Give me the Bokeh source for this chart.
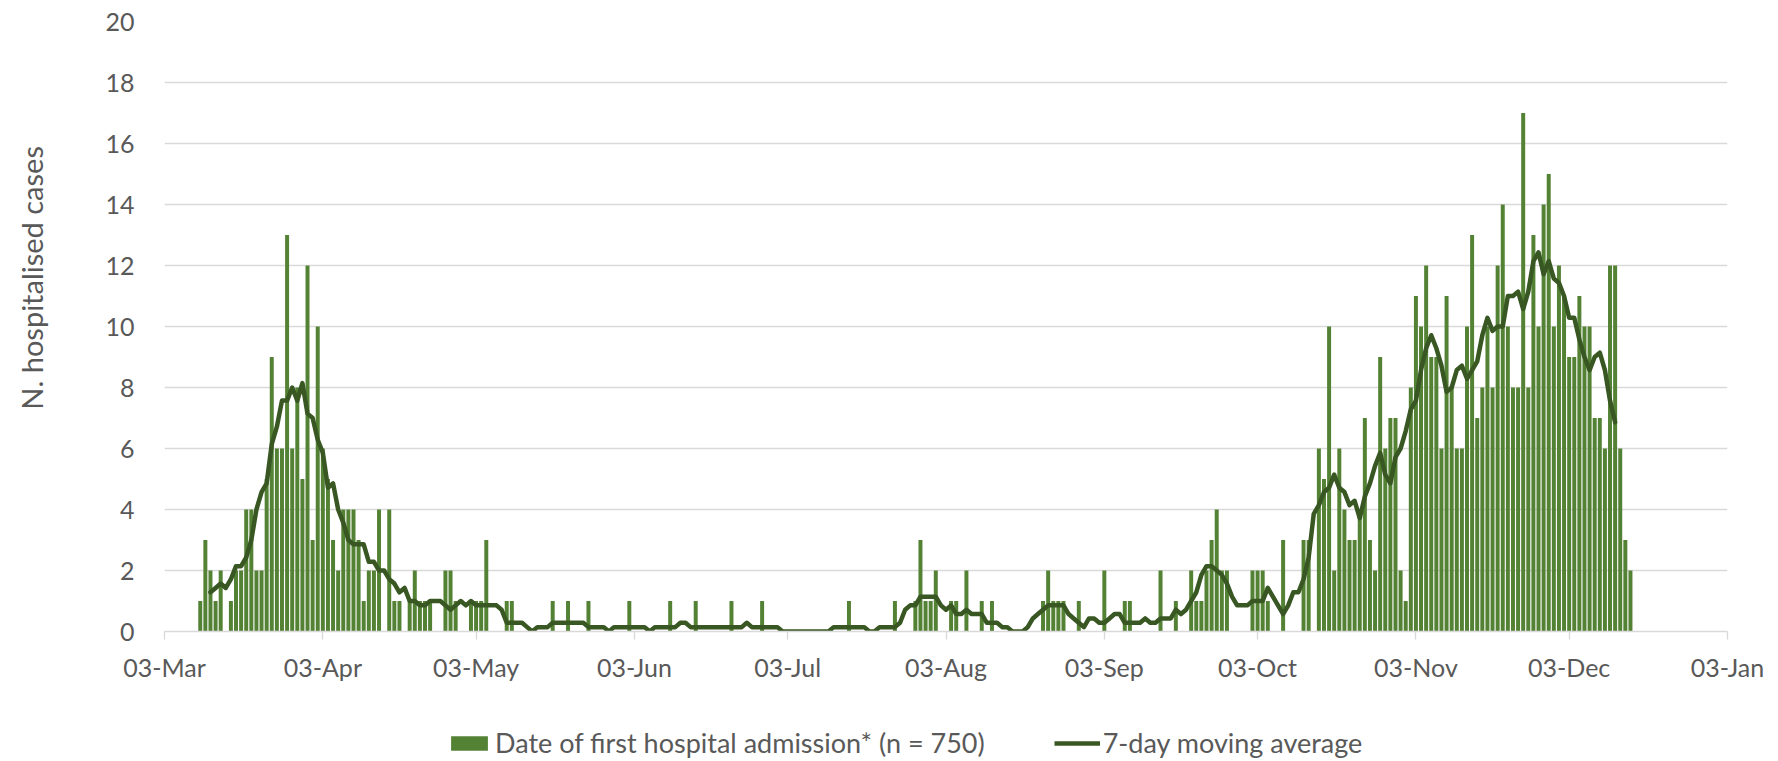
import numpy as np
import pandas as pd
from math import pi
from bokeh.plotting import figure
from bokeh.layouts import column, row
from bokeh.models import (ColumnDataSource, Range1d, FixedTicker, Legend,
                          LegendItem, Label)
from bokeh.embed import file_html
from bokeh.resources import INLINE

# ---------------- data (daily admissions, first day 09-Mar-2020) ----------------
first_day = "2020-03-09"
march = [0, 1, 3, 2, 1, 2, 0, 1, 2, 2, 4, 4, 2, 2, 5, 9, 6, 6, 13, 6, 8, 5, 12]
april = [3, 10, 6, 5, 3, 2, 4, 4, 4, 3, 1, 2, 2, 4, 0, 4, 1, 1, 0, 1,
         2, 1, 1, 1, 0, 0, 2, 2, 1, 0]
may = [0, 1, 1, 1, 3, 0, 0, 0, 1, 1, 0, 0, 0, 0, 0, 0, 0, 1, 0, 0,
       1, 0, 0, 0, 1, 0, 0, 0, 0, 0, 0]
june = [0, 1, 0, 0, 0, 0, 0, 0, 0, 1, 0, 0, 0, 0, 1, 0, 0, 0, 0, 0,
        0, 1, 0, 0, 0, 0, 0, 1, 0, 0]
july = [0, 0, 0, 0, 0, 0, 0, 0, 0, 0, 0, 0, 0, 0, 1, 0, 0, 0, 0, 0,
        0, 0, 0, 1, 0, 0, 0, 1, 3, 1, 1]
august = [2, 0, 0, 1, 1, 0, 2, 0, 0, 1, 0, 1, 0, 0, 0, 0, 0, 0, 0, 0,
          0, 1, 2, 1, 1, 1, 0, 0, 1, 0, 0]
september = [0, 0, 2, 0, 0, 0, 1, 1, 0, 0, 0, 0, 0, 2, 0, 0, 1, 0, 0, 2,
             1, 1, 2, 3, 4, 2, 2, 0, 0, 0]
october = [0, 2, 2, 2, 1, 0, 0, 3, 0, 0, 0, 3, 3, 0, 6, 5, 10, 2, 6, 4,
           3, 3, 4, 7, 3, 2, 9, 6, 7, 7, 2]
november = [1, 8, 11, 10, 12, 9, 9, 6, 11, 8, 6, 6, 10, 13, 7, 8, 10, 8, 12, 14,
            10, 8, 8, 17, 8, 13, 10, 14, 15, 10]
december = [12, 11, 9, 9, 11, 10, 10, 7, 7, 6, 12, 12, 6, 3, 2]

tick_dates = ["2020-03-03", "2020-04-03", "2020-05-03", "2020-06-03",
              "2020-07-03", "2020-08-03", "2020-09-03", "2020-10-03",
              "2020-11-03", "2020-12-03", "2021-01-03"]
tick_labels = ["03-Mar", "03-Apr", "03-May", "03-Jun", "03-Jul", "03-Aug",
               "03-Sep", "03-Oct", "03-Nov", "03-Dec", "03-Jan"]
y_ticks = [0, 2, 4, 6, 8, 10, 12, 14, 16, 18, 20]

bar_label = "Date of first hospital admission* (n = 750)"
line_label = "7-day moving average"
y_title = "N. hospitalised cases"

# ---------------- assemble ----------------
counts = march + april + may + june + july + august + september + october + november + december
dates = pd.date_range(first_day, periods=len(counts), freq="D")
moving_avg = pd.Series(counts, dtype=float).rolling(7, center=True).mean()

src = ColumnDataSource(dict(date=dates, count=counts, ma=moving_avg.values))

def to_ms(s):
    return float(pd.Timestamp(s).value // 10**6)

tick_ms = [to_ms(d) for d in tick_dates]
DAY = 86400000.0

FONT = "Lato"
TXT = "#595959"
BAR_C = "#548235"
LINE_C = "#385723"
FS_TICK = "25px"
FS_LEG = "27px"
FS_TITLE = "29px"

TOTAL_W = 1770
TITLE_W = 60
MAIN_H = 690
LEG_H = 70

# ---------------- main chart ----------------
p = figure(width=TOTAL_W - TITLE_W, height=MAIN_H, x_axis_type="datetime",
           x_range=Range1d(tick_ms[0], tick_ms[-1]), y_range=Range1d(0, 20),
           output_backend="svg", toolbar_location=None,
           min_border_left=164 - TITLE_W, min_border_right=43,
           min_border_top=21, min_border_bottom=MAIN_H - 21 - 610)
p.outline_line_color = None
p.background_fill_color = "white"
p.border_fill_color = "white"

bars = p.vbar(x="date", top="count", width=0.78 * DAY, source=src,
              fill_color=BAR_C, line_color=None)
line = p.line(x="date", y="ma", source=src, line_color=LINE_C,
              line_width=4.5, line_join="round", line_cap="round")

p.xgrid.visible = False
p.ygrid.grid_line_color = "#d9d9d9"
p.ygrid.grid_line_width = 1.3
p.ygrid.ticker = FixedTicker(ticks=y_ticks)

p.yaxis.ticker = FixedTicker(ticks=y_ticks)
p.yaxis.axis_line_color = None
p.yaxis.major_tick_line_color = None
p.yaxis.minor_tick_line_color = None
p.yaxis.major_label_standoff = 24
p.yaxis.major_label_text_font = FONT
p.yaxis.major_label_text_font_size = FS_TICK
p.yaxis.major_label_text_color = TXT

p.xaxis.ticker = FixedTicker(ticks=tick_ms)
p.xaxis.major_label_overrides = {t: l for t, l in zip(tick_ms, tick_labels)}
p.xaxis.axis_line_color = "#d9d9d9"
p.xaxis.axis_line_width = 1.3
p.xaxis.major_tick_line_color = "#d9d9d9"
p.xaxis.major_tick_line_width = 1.3
p.xaxis.major_tick_out = 8
p.xaxis.major_tick_in = 0
p.xaxis.minor_tick_line_color = None
p.xaxis.major_label_standoff = 12
p.xaxis.major_label_text_font = FONT
p.xaxis.major_label_text_font_size = FS_TICK
p.xaxis.major_label_text_color = TXT

# ---------------- y title strip ----------------
t = figure(width=TITLE_W, height=MAIN_H, x_range=Range1d(0, TITLE_W),
           y_range=Range1d(0, MAIN_H), output_backend="svg",
           toolbar_location=None, x_axis_location=None, y_axis_location=None,
           min_border=0)
t.outline_line_color = None
t.grid.visible = False
t.add_layout(Label(x=31, y=MAIN_H - 290, text=y_title, angle=pi / 2,
                   text_align="center", text_baseline="middle",
                   text_font=FONT, text_font_size=FS_TITLE, text_color=TXT))

# ---------------- legend strip ----------------
lg = figure(width=TOTAL_W, height=LEG_H, x_range=Range1d(0, 1),
            y_range=Range1d(0, 1), output_backend="svg",
            toolbar_location=None, x_axis_location=None, y_axis_location=None,
            min_border=0)
lg.outline_line_color = None
lg.grid.visible = False
# legend proxies: one NaN entry each, so nothing is drawn in the strip itself
proxy_src = ColumnDataSource(dict(x=np.array([np.nan]), y=np.array([np.nan])))
bar_proxy = lg.vbar(x="x", top="y", width=1, source=proxy_src,
                    fill_color=BAR_C, line_color=None)
line_proxy = lg.line(x="x", y="y", source=proxy_src, line_color=LINE_C,
                     line_width=4.5)
legend = Legend(items=[LegendItem(label=bar_label, renderers=[bar_proxy]),
                       LegendItem(label=line_label, renderers=[line_proxy])],
                orientation="horizontal", location=(446, 1),
                glyph_width=46, glyph_height=18, label_standoff=3,
                spacing=69, padding=0, margin=0,
                border_line_color=None, background_fill_alpha=0,
                label_text_font=FONT, label_text_font_size=FS_LEG,
                label_text_color=TXT)
lg.add_layout(legend)

layout = column(row(t, p), lg)
open("out.html", "w").write(file_html(layout, INLINE))
